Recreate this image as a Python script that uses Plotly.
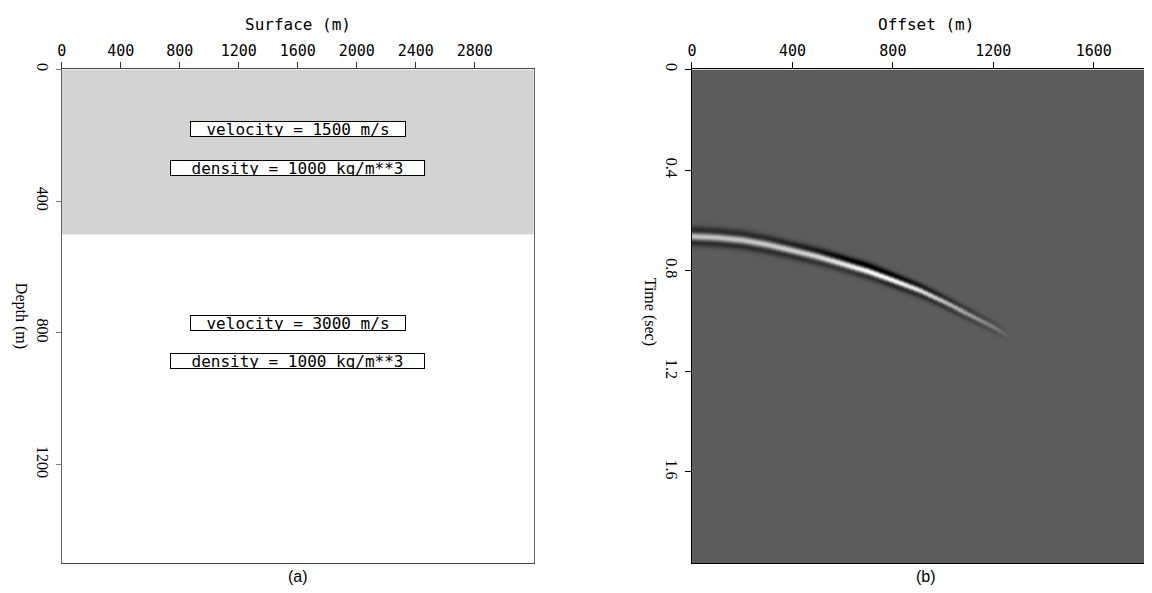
import numpy as np
import plotly.graph_objects as go

# page body has an 8px default margin on every side; keep the figure inside the window
PAGE_MARGIN = 8
W, H = 1152 - 2 * PAGE_MARGIN, 593 - 2 * PAGE_MARGIN

# ---------------- data: panel (a) velocity/density model ----------------
model_x_edges = [0, 3200]            # surface extent (m)
layer_edges = [0, 500, 1500]         # depth of layer boundaries (m)
velocities = [1500, 3000]            # m/s per layer
densities = [1000, 1000]             # kg/m**3 per layer
surface_ticks = [0, 400, 800, 1200, 1600, 2000, 2400, 2800]
depth_ticks = [0, 400, 800, 1200]

# ---------------- data: panel (b) shot gather picks ----------------
pick_offset = [0, 100, 200, 300, 400, 500, 600, 700, 800, 900, 1000, 1100, 1200, 1270]
pick_time = [0.662, 0.667, 0.677, 0.695, 0.718, 0.742, 0.770, 0.800, 0.837, 0.875, 0.922, 0.972, 1.023, 1.066]
pick_amp = [0.66, 0.66, 0.67, 0.69, 0.72, 0.77, 0.86, 0.98, 1.00, 0.85, 0.62, 0.42, 0.22, 0.0]
pick_asym = [0.0, 0.0, 0.01, 0.03, 0.06, 0.14, 0.26, 0.28, 0.18, 0.10, 0.05, 0.02, 0.01, 0.0]
pick_freq = [15, 15, 15, 15, 15.5, 16, 16.5, 17, 18, 19, 20, 21, 22, 23]
offset_ticks = [0, 400, 800, 1200, 1600]
time_ticks = [0, 0.4, 0.8, 1.2, 1.6]
offset_max = 1800
time_max = 1.963


def px_x(p):
    return (p - PAGE_MARGIN) / W


def px_y(p):
    return 1 - (p - PAGE_MARGIN) / H


fig = go.Figure()

# panel (a): layered model as heatmap (bin edges)
fig.add_trace(go.Heatmap(
    x=model_x_edges, y=layer_edges, z=[[velocities[0]], [velocities[1]]],
    colorscale=[[0, "#d3d3d3"], [1, "#ffffff"]], zmin=velocities[0], zmax=velocities[1],
    showscale=False, hoverinfo="skip", xaxis="x", yaxis="y"))

# panel (b): synthetic gather built from picks
offs = np.arange(0, offset_max + 5, 5.0)
times = np.arange(0, time_max + 0.002, 0.002)
tc = np.interp(offs, pick_offset, pick_time)
amp = np.interp(offs, pick_offset, pick_amp, right=0.0)
asym = np.interp(offs, pick_offset, pick_asym, right=0.0)
freq = np.interp(offs, pick_offset, pick_freq)
tau = times[:, None] - tc[None, :]
s = np.pi * freq[None, :] * tau
ricker = (1 - 2 * s ** 2) * np.exp(-s ** 2)
odd = 2.33 * s * np.exp(-s ** 2)
z = amp[None, :] * ricker + asym[None, :] * odd

zmax = 1.0
zmin = -0.565
fig.add_trace(go.Heatmap(
    x=offs, y=times, z=z, colorscale=[[0, "#000000"], [1, "#ffffff"]],
    zmin=zmin, zmax=zmax, showscale=False, hoverinfo="skip", zsmooth="best",
    xaxis="x2", yaxis="y2"))

tickfont = dict(family="DejaVu Sans Mono", size=15, color="black")
serif = dict(family="Liberation Serif", size=16, color="black")

ydom = [px_y(563), px_y(64)]
fig.update_layout(
    width=W, height=H, margin=dict(l=0, r=0, t=0, b=0),
    paper_bgcolor="white", plot_bgcolor="white", showlegend=False,
    xaxis=dict(domain=[px_x(57), px_x(531)], range=[0, 3200], side="top",
               tickvals=surface_ticks, ticktext=[str(v) for v in surface_ticks],
               ticks="outside", ticklen=6, tickcolor="#333", showline=True, linecolor="#444",
               linewidth=1, mirror=True, showgrid=False, zeroline=False, tickfont=tickfont,
               anchor="y"),
    yaxis=dict(domain=ydom, range=[1500, 0], tickvals=depth_ticks,
               ticktext=[str(v) for v in depth_ticks], tickangle=90,
               ticks="outside", ticklen=5, tickcolor="#777", showline=True, linecolor="#666",
               linewidth=1, mirror=True, showgrid=False, zeroline=False, tickfont=serif,
               anchor="x"),
    xaxis2=dict(domain=[px_x(690), 1.0], range=[0, offset_max], side="top",
                tickvals=offset_ticks, ticktext=[str(v) for v in offset_ticks],
                ticks="outside", ticklen=6, tickcolor="black", showline=True, linecolor="black",
                linewidth=1, mirror=True, showgrid=False, zeroline=False, tickfont=tickfont,
                anchor="y2"),
    yaxis2=dict(domain=ydom, range=[time_max, 0], tickvals=time_ticks,
                ticktext=["0", "0.4", "0.8", "1.2", "1.6"], tickangle=90,
                ticks="outside", ticklen=6, tickcolor="black", showline=True, linecolor="black",
                linewidth=1, mirror=False, showgrid=False, zeroline=False, tickfont=serif,
                anchor="x2"),
)

box_font = dict(family="DejaVu Sans Mono", size=16, color="black")
label_rows = [
    (180, f"velocity = {velocities[0]} m/s", 214),
    (300, f"density = {densities[0]} kg/m**3", 253),
    (770, f"velocity = {velocities[1]} m/s", 214),
    (885, f"density = {densities[1]} kg/m**3", 253),
]
for yv, txt, wbox in label_rows:
    fig.add_annotation(x=1600, y=yv, xref="x", yref="y", text=txt, showarrow=False,
                       font=box_font, bgcolor="white", bordercolor="black", borderwidth=1,
                       borderpad=0, width=wbox, height=14, align="center",
                       xanchor="center", yanchor="middle")


def label(xp, yp, text, font, angle=0, yanchor="middle"):
    fig.add_annotation(x=px_x(xp), y=px_y(yp), xref="paper", yref="paper", text=text,
                       showarrow=False, font=font, textangle=angle,
                       xanchor="center", yanchor=yanchor)


title_font = dict(family="DejaVu Sans Mono", size=16, color="black")
label(294, 19, "Surface (m)", title_font)
label(925, 19, "Offset (m)", title_font)
label(16, 313, "Depth (m)", serif, 90)
label(648, 309, "Time (sec)", serif, 90)
cap_font = dict(family="Liberation Sans", size=16, color="black")
label(294, 566, "(a)", cap_font, yanchor="top")
label(925, 566, "(b)", cap_font, yanchor="top")

fig.write_html("out.html")
